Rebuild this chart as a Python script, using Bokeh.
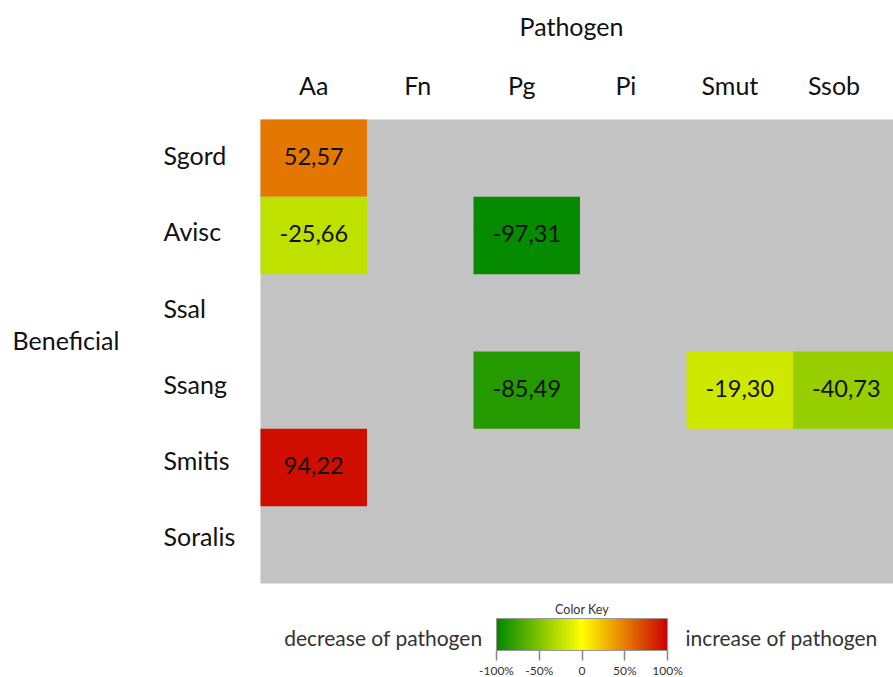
from bokeh.plotting import figure
from bokeh.models import Range1d, ColumnDataSource, LinearColorMapper, ColorBar, FixedTicker
from bokeh.core.properties import value
from bokeh.embed import file_html
from bokeh.resources import INLINE

# ---------------- data ----------------
pathogens = ["Aa", "Fn", "Pg", "Pi", "Smut", "Ssob"]
beneficials = ["Sgord", "Avisc", "Ssal", "Ssang", "Smitis", "Soralis"]

cell_pathogen = ["Aa", "Aa", "Pg", "Pg", "Smut", "Ssob", "Aa"]
cell_beneficial = ["Sgord", "Avisc", "Avisc", "Ssang", "Ssang", "Ssang", "Smitis"]
cell_value = [52.57, -25.66, -97.31, -85.49, -19.30, -40.73, 94.22]

key_ticks = [-100, -50, 0, 50, 100]
key_labels = ["-100%", "-50%", "0", "50%", "100%"]

# ---------------- styling ----------------
FONT = "Lato"
W, H = 893, 677
CW, CH = 106.5, 77.33          # cell size in px
GX, GY = 260, 119              # grid top-left inside the frame (px)

anchors = [(-100, (0x00, 0x88, 0x00)), (-50, (0x80, 0xC4, 0x00)), (0, (0xFF, 0xFF, 0x00)),
           (50, (0xE6, 0x7E, 0x00)), (100, (0xCC, 0x00, 0x00))]
palette = []
N = 256
for k in range(N):
    v = -100 + 200 * k / (N - 1)
    for (a, ca), (b, cb) in zip(anchors[:-1], anchors[1:]):
        if a <= v <= b:
            t = (v - a) / (b - a)
            c = tuple(int(round(ca[i] + t * (cb[i] - ca[i]))) for i in range(3))
            break
    palette.append("#%02x%02x%02x" % c)

mapper = LinearColorMapper(palette=palette, low=-100, high=100)

p = figure(width=W, height=H, output_backend="svg", toolbar_location=None,
           x_range=Range1d(-GX / CW, (W - GX) / CW),
           y_range=Range1d((H - GY) / CH, -GY / CH),
           min_border=0, tools="")
p.axis.visible = False
p.grid.visible = False
p.outline_line_color = None
p.background_fill_color = "white"

ncol, nrow = len(pathogens), len(beneficials)
# gray background grid
p.rect(x=[ncol / 2], y=[nrow / 2], width=ncol, height=nrow,
       fill_color="#c3c3c3", line_color=None)

xs = [pathogens.index(c) + 0.5 for c in cell_pathogen]
ys = [beneficials.index(r) + 0.5 for r in cell_beneficial]
labels = [("%.2f" % v).replace(".", ",") for v in cell_value]
src = ColumnDataSource(dict(x=xs, y=ys, v=cell_value, lab=labels))
p.rect(x="x", y="y", width=1, height=1, source=src,
       fill_color={"field": "v", "transform": mapper}, line_color=None)
p.text(x="x", y="y", text="lab", source=src, text_align="center", text_baseline="middle",
       text_font=value(FONT), text_font_size="23.5px", text_color="#111111", y_offset=-2)

LBL = "25px"
# column headers
hs = 0.977
p.text(x=[i * hs + 0.5 for i in range(ncol)], y=[-35 / CH] * ncol, text=pathogens,
       text_align="center", text_baseline="middle", text_font=value(FONT),
       text_font_size=LBL, text_color="#111111")
# row labels
vs = 0.986
p.text(x=[-97 / CW] * nrow, y=[j * vs + 0.5 for j in range(nrow)], text=beneficials,
       text_align="left", text_baseline="middle", text_font=value(FONT),
       text_font_size=LBL, text_color="#111111", y_offset=-3)
# axis titles
p.text(x=[2.92], y=[-94 / CH], text=["Pathogen"], text_align="center", text_baseline="middle",
       text_font=value(FONT), text_font_size=LBL, text_color="#111111")
p.text(x=[-248 / CW], y=[2.845], text=["Beneficial"], text_align="left", text_baseline="middle",
       text_font=value(FONT), text_font_size=LBL, text_color="#111111")

# key side texts
p.text(x=[222 / CW], y=[6.7], text=["decrease of pathogen"], text_align="right",
       text_baseline="middle", text_font=value(FONT), text_font_size="21px", text_color="#333333")
p.text(x=[425 / CW], y=[6.7], text=["increase of pathogen"], text_align="left",
       text_baseline="middle", text_font=value(FONT), text_font_size="21px", text_color="#333333")
p.text(x=[321.5 / CW], y=[490 / CH], text=["Color Key"], text_align="center",
       text_baseline="middle", text_font=value(FONT), text_font_size="12.5px", text_color="#333333")

cb = ColorBar(color_mapper=mapper, orientation="horizontal", location=(496, -3),
              width=171, height=32, padding=0,
              ticker=FixedTicker(ticks=key_ticks),
              major_label_overrides={t: l for t, l in zip(key_ticks, key_labels)},
              major_label_text_font=FONT, major_label_text_font_size="12px",
              major_label_text_color="#333333", label_standoff=2,
              major_tick_in=0, major_tick_out=10, major_tick_line_color="#888888",
              major_tick_line_width=1.5,
              minor_tick_line_color=None, bar_line_color="#999999",
              background_fill_color=None, border_line_color=None)
p.add_layout(cb, "center")

open("out.html", "w").write(file_html(p, INLINE))
